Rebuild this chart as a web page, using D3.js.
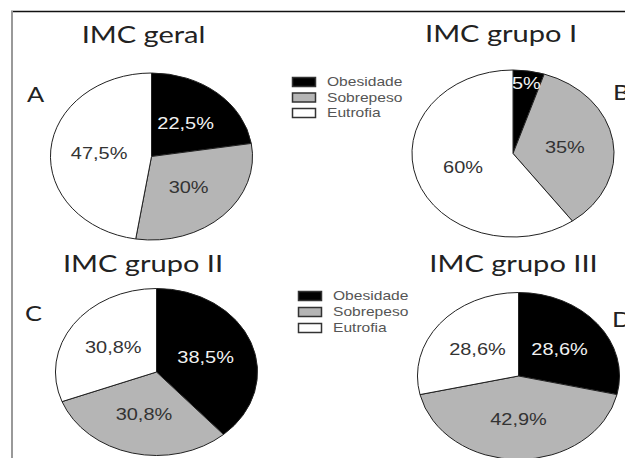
<!DOCTYPE html>
<html>
<head>
<meta charset="utf-8">
<script src="https://cdn.jsdelivr.net/npm/d3@7"></script>
<style>
  body { margin: 0; background: #fff; }
  svg { display: block; }
</style>
</head>
<body>
<div id="chart"></div>
<script>
// chart data
const categories = ["Obesidade", "Sobrepeso", "Eutrofia"];
const titles = ["IMC geral", "IMC grupo I", "IMC grupo II", "IMC grupo III"];
const letters = ["A", "B", "C", "D"];
const imcGeral = [22.5, 30, 47.5];
const imcGrupoI = [5, 35, 60];
const imcGrupoII = [38.5, 30.8, 30.8];
const imcGrupoIII = [28.6, 42.9, 28.6];

const width = 625, height = 458;
const sx = 1.21; // the original figure is stretched horizontally
const r = 83.5;

// layout of the four panels
const panels = [
  { values: imcGeral, cx: 151.5, cy: 156.5, tx: 143.5, ty: 43, lx: 27, ly: 102 },
  { values: imcGrupoI, cx: 513, cy: 153.5, tx: 501, ty: 42, lx: 613, ly: 100 },
  { values: imcGrupoII, cx: 156.5, cy: 372, tx: 143, ty: 272, lx: 25, ly: 321 },
  { values: imcGrupoIII, cx: 518.5, cy: 376, tx: 513.5, ty: 272, lx: 612, ly: 327 }
];
const legends = [
  { x: 292, y: 82, step: 15.5 },
  { x: 298, y: 296, step: 16 }
];

const color = d3.scaleOrdinal().domain(categories).range(["#000", "#b5b5b5", "#fff"]);
const labelColor = d3.scaleOrdinal().domain(categories).range(["#f2f2f2", "#333", "#333"]);

const pt = d3.formatLocale({ decimal: ",", thousands: ".", grouping: [3], currency: ["R$", ""] });
const fmt = pt.format(".1~f");

const svg = d3.select("#chart").append("svg")
    .attr("width", width)
    .attr("height", height);

svg.append("rect").attr("width", width).attr("height", height).attr("fill", "#fff");

// frame
svg.append("line")
    .attr("x1", 11).attr("x2", width).attr("y1", 11.5).attr("y2", 11.5)
    .attr("stroke", "#111").attr("stroke-width", 1.5);
svg.append("line")
    .attr("x1", 12).attr("x2", 12).attr("y1", 11).attr("y2", height)
    .attr("stroke", "#999").attr("stroke-width", 2);

const pie = d3.pie().sort(null).value(d => d);
const arc = d3.arc().innerRadius(0).outerRadius(r);

panels.forEach((p, i) => {
  const slices = pie(p.values).map((d, k) => Object.assign(d, { cat: categories[k] }));

  const g = svg.append("g")
      .attr("transform", `translate(${p.cx},${p.cy}) scale(${sx},1)`);

  g.selectAll("path")
      .data(slices)
      .join("path")
      .attr("d", arc)
      .attr("fill", d => color(d.cat))
      .attr("stroke", "#222")
      .attr("stroke-width", 1)
      .attr("vector-effect", "non-scaling-stroke");

  g.selectAll("text")
      .data(slices)
      .join("text")
      .attr("transform", d => {
        const rr = d.value < 10 ? r * 0.85 : r * 0.52;
        const a = (d.startAngle + d.endAngle) / 2;
        return `translate(${Math.sin(a) * rr},${-Math.cos(a) * rr})`;
      })
      .attr("text-anchor", "middle")
      .attr("dy", "0.36em")
      .attr("font-family", "Liberation Sans, Arial, sans-serif")
      .attr("font-size", 16.5)
      .attr("fill", d => labelColor(d.cat))
      .text(d => fmt(d.value) + "%");

  svg.append("text")
      .attr("transform", `translate(${p.tx},${p.ty}) scale(${sx},1)`)
      .attr("text-anchor", "middle")
      .attr("font-family", "Lato, sans-serif")
      .attr("font-size", 24)
      .attr("fill", "#222")
      .text(titles[i]);

  svg.append("text")
      .attr("transform", `translate(${p.lx},${p.ly}) scale(${sx},1)`)
      .attr("font-family", "Lato, sans-serif")
      .attr("font-size", 21)
      .attr("fill", "#222")
      .text(letters[i]);
});

legends.forEach(l => {
  const lg = svg.append("g").attr("transform", `translate(${l.x},${l.y})`);
  const row = lg.selectAll("g")
      .data(categories)
      .join("g")
      .attr("transform", (d, k) => `translate(0,${k * l.step})`);
  row.append("rect")
      .attr("x", 0.5).attr("y", -4.5)
      .attr("width", 23).attr("height", 9)
      .attr("fill", d => color(d))
      .attr("stroke", "#333")
      .attr("stroke-width", 1.5);
  row.append("text")
      .attr("transform", `translate(35,0) scale(1.3,1)`)
      .attr("dy", "0.35em")
      .attr("font-family", "Liberation Sans, Arial, sans-serif")
      .attr("font-size", 12)
      .attr("fill", "#555")
      .text(d => d);
});
</script>
</body>
</html>
